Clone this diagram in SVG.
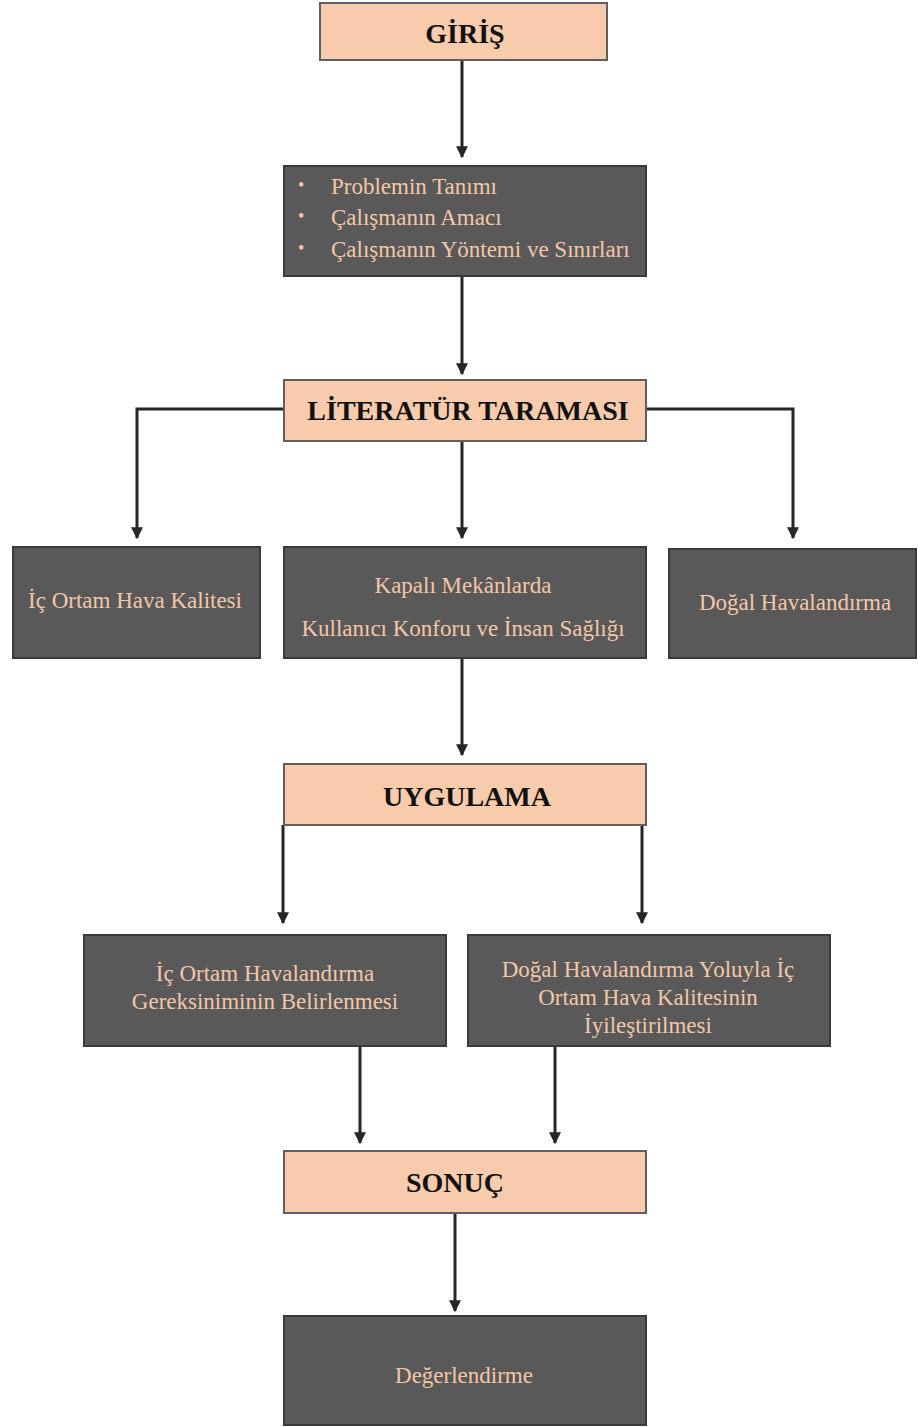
<svg xmlns="http://www.w3.org/2000/svg" width="918" height="1427" viewBox="0 0 918 1427">
  <style>
    .head { fill: #F7CBAC; stroke: #5f5f5f; stroke-width: 2; }
    .body { fill: #595959; stroke: #3a3a3a; stroke-width: 2; }
    .ht { font-family: "Liberation Serif", serif; font-weight: bold; font-size: 28px; fill: #111; text-anchor: middle; dominant-baseline: central; }
    .bt { font-family: "Liberation Serif", serif; font-size: 23px; fill: #F4C7A8; text-anchor: middle; dominant-baseline: central; }
    .bl { font-family: "Liberation Serif", serif; font-size: 23px; fill: #F4C7A8; dominant-baseline: central; }
    .dot { font-family: "Liberation Serif", serif; font-size: 18px; fill: #F4C7A8; dominant-baseline: central; }
    .conn { fill: none; stroke: #262626; stroke-width: 3; marker-end: url(#arrow); }
  </style>
  <defs>
    <marker id="arrow" viewBox="0 0 10 10" refX="9" refY="5" markerWidth="4" markerHeight="4" markerUnits="strokeWidth" orient="auto">
      <path d="M0,0 L10,5 L0,10 z" fill="#262626"/>
    </marker>
  </defs>

  <g id="connectors">
    <path class="conn" d="M462,60 V157"/>
    <path class="conn" d="M462,276 V374"/>
    <path class="conn" d="M284,409 H137 V538"/>
    <path class="conn" d="M462,441 V538"/>
    <path class="conn" d="M646,409 H793 V538"/>
    <path class="conn" d="M462,658 V755"/>
    <path class="conn" d="M283,825 V923"/>
    <path class="conn" d="M642,825 V923"/>
    <path class="conn" d="M360,1046 V1143"/>
    <path class="conn" d="M555,1046 V1143"/>
    <path class="conn" d="M455,1213 V1311"/>
  </g>

  <g id="giris">
    <rect class="head" x="320" y="3" width="287" height="57"/>
    <text class="ht" x="465" y="33">GİRİŞ</text>
  </g>

  <g id="giris-icerik">
    <rect class="body" x="284" y="166" width="362" height="110"/>
    <text class="dot" x="298" y="185">•</text>
    <text class="bl" x="331" y="186">Problemin Tanımı</text>
    <text class="dot" x="298" y="216">•</text>
    <text class="bl" x="331" y="217">Çalışmanın Amacı</text>
    <text class="dot" x="298" y="248">•</text>
    <text class="bl" x="331" y="249">Çalışmanın Yöntemi ve Sınırları</text>
  </g>

  <g id="literatur">
    <rect class="head" x="284" y="380" width="362" height="61"/>
    <text class="ht" x="468" y="410">LİTERATÜR TARAMASI</text>
  </g>

  <g id="ic-ortam-hava-kalitesi">
    <rect class="body" x="13" y="547" width="247" height="111"/>
    <text class="bt" x="135" y="600">İç Ortam Hava Kalitesi</text>
  </g>

  <g id="kullanici-konforu">
    <rect class="body" x="284" y="547" width="362" height="111"/>
    <text class="bt" x="463" y="585">Kapalı Mekânlarda</text>
    <text class="bt" x="463" y="628">Kullanıcı Konforu ve İnsan Sağlığı</text>
  </g>

  <g id="dogal-havalandirma">
    <rect class="body" x="669" y="549" width="247" height="109"/>
    <text class="bt" x="795" y="602">Doğal Havalandırma</text>
  </g>

  <g id="uygulama">
    <rect class="head" x="284" y="764" width="362" height="61"/>
    <text class="ht" x="467" y="796">UYGULAMA</text>
  </g>

  <g id="havalandirma-gereksinimi">
    <rect class="body" x="84" y="935" width="362" height="111"/>
    <text class="bt" x="265" y="973">İç Ortam Havalandırma</text>
    <text class="bt" x="265" y="1001">Gereksiniminin Belirlenmesi</text>
  </g>

  <g id="hava-kalitesi-iyilestirme">
    <rect class="body" x="468" y="935" width="362" height="111"/>
    <text class="bt" x="648" y="969">Doğal Havalandırma Yoluyla İç</text>
    <text class="bt" x="648" y="997">Ortam Hava Kalitesinin</text>
    <text class="bt" x="648" y="1025">İyileştirilmesi</text>
  </g>

  <g id="sonuc">
    <rect class="head" x="284" y="1151" width="362" height="62"/>
    <text class="ht" x="455" y="1182">SONUÇ</text>
  </g>

  <g id="degerlendirme">
    <rect class="body" x="284" y="1316" width="362" height="109"/>
    <text class="bt" x="464" y="1375">Değerlendirme</text>
  </g>
</svg>
